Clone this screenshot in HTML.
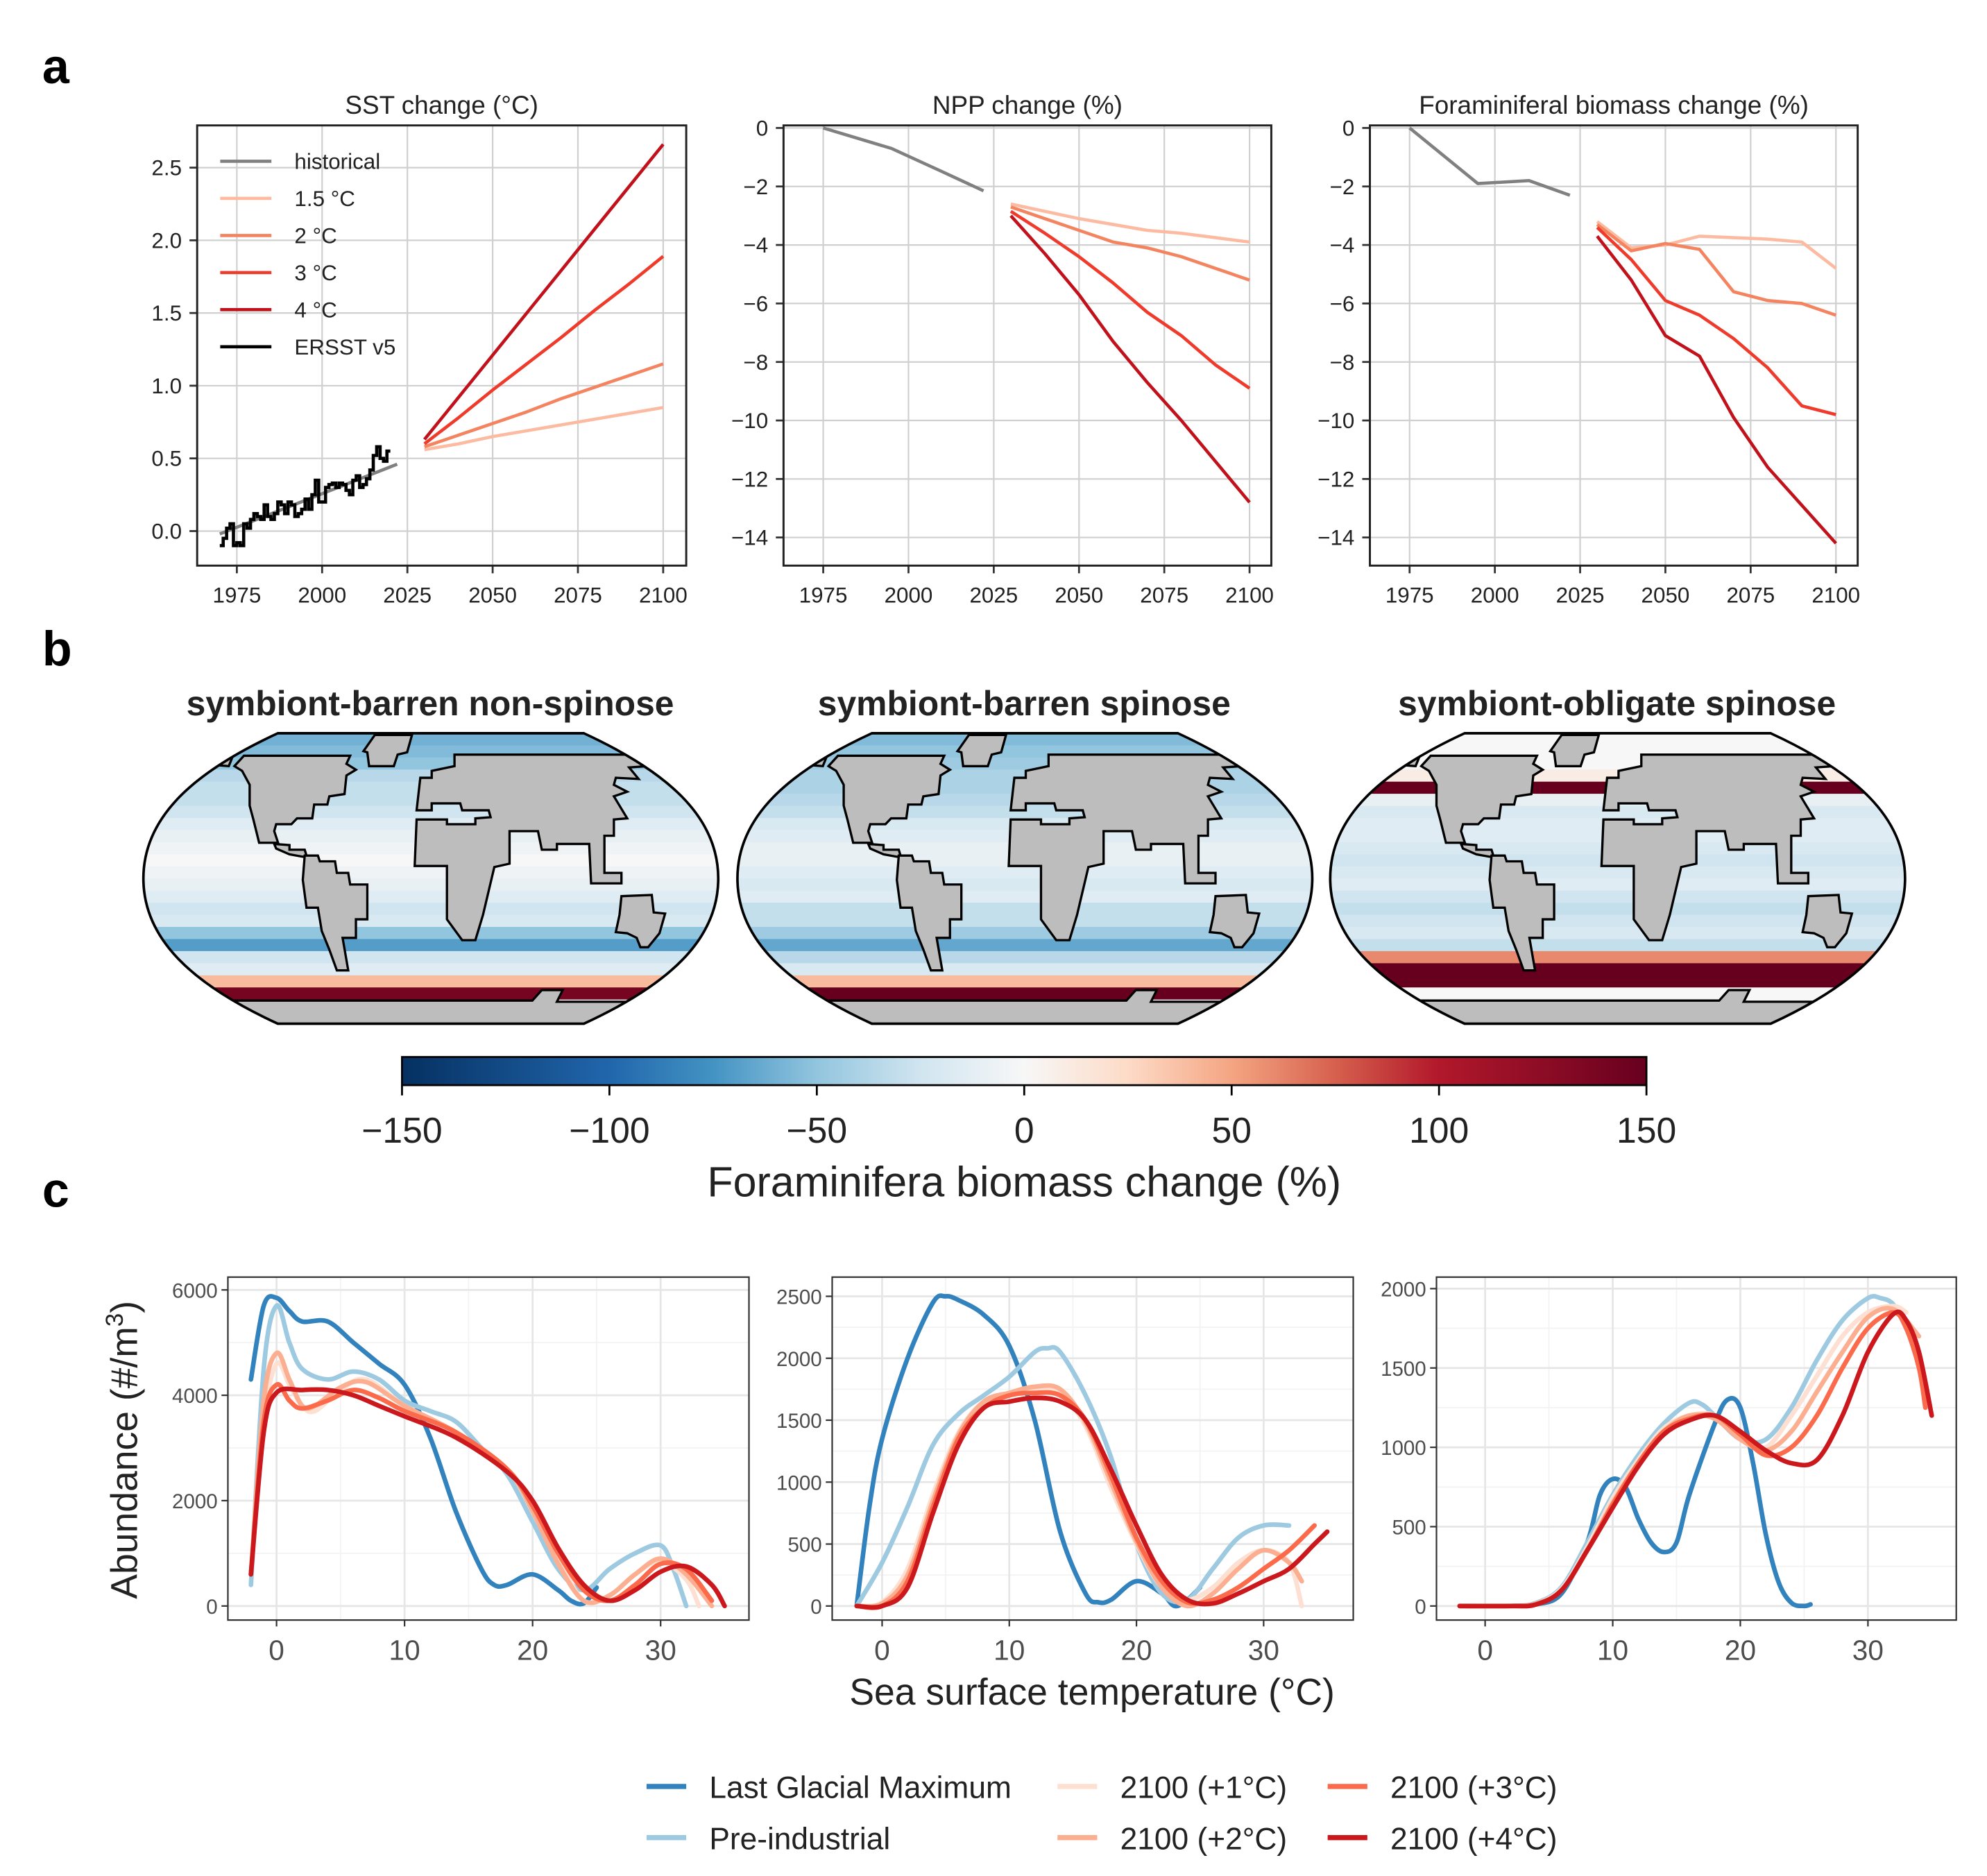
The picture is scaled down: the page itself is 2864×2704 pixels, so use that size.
<!DOCTYPE html>
<html><head><meta charset="utf-8"><style>
html,body{margin:0;padding:0;background:#fff}
svg{display:block;font-family:"Liberation Sans",Arial,sans-serif}
</style></head><body>
<svg id="fig" xmlns="http://www.w3.org/2000/svg" width="2864" height="2704" viewBox="0 0 1552 1466" preserveAspectRatio="none">
<rect width="1552" height="1466" fill="#fff"/>
<text x="33" y="65" font-size="38" font-weight="bold">a</text>
<text x="33" y="520" font-size="38" font-weight="bold">b</text>
<text x="33" y="943" font-size="38" font-weight="bold">c</text>
<g id="root"></g>
</svg>
<script>
// ---------- DATA ----------
const yearsHist=[1970,2022];
const sstHist=[-0.02,0.46];
const ersstYears=[];for(let y=1970;y<=2019;y++)ersstYears.push(y);
const ersstVals=[-0.1,-0.05,0.02,0.05,-0.1,-0.08,-0.1,0.05,0.02,0.08,0.12,0.1,0.08,0.18,0.1,0.08,0.12,0.2,0.18,0.12,0.2,0.18,0.1,0.12,0.15,0.22,0.15,0.25,0.35,0.2,0.2,0.3,0.32,0.33,0.3,0.33,0.32,0.28,0.25,0.35,0.38,0.3,0.32,0.36,0.42,0.52,0.58,0.5,0.48,0.55];
const scenYears=[2030,2040,2050,2060,2070,2080,2090,2100];
const sst15=[0.56,0.6,0.65,0.69,0.73,0.77,0.81,0.85];
const sst2=[0.58,0.66,0.74,0.82,0.91,0.99,1.07,1.15];
const sst3=[0.6,0.78,0.97,1.15,1.33,1.52,1.7,1.89];
const sst4=[0.63,0.92,1.21,1.5,1.79,2.08,2.37,2.66];
const nppHistYears=[1975,1995,2010,2022];
const nppHist=[0,-0.7,-1.5,-2.15];
const npp15=[-2.6,-2.85,-3.1,-3.3,-3.5,-3.6,-3.75,-3.9];
const npp2=[-2.7,-3.1,-3.5,-3.9,-4.1,-4.4,-4.8,-5.2];
const npp3=[-2.85,-3.6,-4.4,-5.3,-6.3,-7.1,-8.1,-8.9];
const npp4=[-3.0,-4.3,-5.7,-7.3,-8.7,-10.0,-11.4,-12.8];
const foraHistYears=[1975,1995,2010,2022];
const foraHist=[0,-1.9,-1.8,-2.3];
const fora15=[-3.2,-4.1,-4.0,-3.7,-3.75,-3.8,-3.9,-4.8];
const fora2=[-3.3,-4.2,-3.95,-4.15,-5.6,-5.9,-6.0,-6.4];
const fora3=[-3.4,-4.5,-5.9,-6.4,-7.2,-8.2,-9.5,-9.8];
const fora4=[-3.7,-5.2,-7.1,-7.8,-9.9,-11.6,-12.9,-14.2];
const yearTicks=[1975,2000,2025,2050,2075,2100];
const sstTicks=[0,0.5,1,1.5,2,2.5];
const pctTicks=[0,-2,-4,-6,-8,-10,-12,-14];
// map latitude-row values (top to bottom)
const map1Rows=[-60,-55,-50,-35,-30,-30,-25,-15,-10,-5,0,-5,-10,-15,-25,-20,-50,-70,-25,-15,40,140,0,0];
const map2Rows=[-55,-50,-45,-40,-40,-35,-30,-20,-15,-10,-10,-15,-20,-15,-30,-30,-45,-65,-35,-20,40,150,0,0];
const map3Rows=[0,0,0,10,150,-10,-20,-15,-15,-20,-25,-20,-15,-25,-30,-25,-20,-30,60,150,150,0,0,0];
const cbarTicks=[-150,-100,-50,0,50,100,150];
// panel c
const cX1={lgm:[-2,-1,0,1,2,4,6,8,10,12,14,16,17,18,20,22,23,24,25],pi:[-2,-1,0,1,2,4,6,8,10,12,14,16,18,20,22,24,26,28,30,31,32],p1:[-2,-1,0,1,2,3,5,7,10,14,18,20,22,24,26,28,30,32,33],p2:[-2,-1,0,1,2,3,5,7,10,14,18,20,22,24,26,28,30,32,34],p3:[-2,-1,0,1,2,4,6,8,10,14,18,20,22,24,26,28,30,32,34],p4:[-2,-1,0,2,4,6,8,10,14,18,20,22,24,26,28,30,32,34,35]};
const cY1={lgm:[4300,5700,5850,5600,5400,5400,5000,4600,4200,3200,1800,700,400,400,600,300,100,50,350],pi:[400,4500,5700,5000,4500,4300,4450,4300,3900,3700,3500,3000,2500,1600,700,300,700,1000,1150,700,0],p1:[600,3500,4600,4200,3800,3700,4100,4300,3800,3300,2600,1900,900,100,200,600,850,500,0],p2:[600,3900,4800,4300,3800,3800,4150,4250,3800,3300,2600,1800,800,100,200,600,900,600,0],p3:[600,3500,4200,3900,3750,3900,4100,3950,3700,3300,2600,1900,1000,300,100,400,800,700,100],p4:[600,3300,4050,4100,4100,4000,3800,3600,3200,2550,2000,1100,400,100,300,650,750,400,0]};
const cX2={lgm:[-2,-1,0,2,4,5,6,8,10,12,14,16,17,18,20,22,23,24,25],pi:[-2,0,2,4,6,8,10,12,13,14,16,18,20,22,24,26,28,30,32],p1:[-2,0,2,4,6,8,10,12,14,16,18,20,22,24,26,28,30,32,33],p2:[-2,0,2,4,6,8,10,12,14,16,18,20,22,24,26,28,30,32,33],p3:[-2,0,2,4,6,8,10,12,14,16,18,20,22,24,26,28,30,32,34],p4:[-2,0,2,4,6,8,10,12,14,16,18,20,22,24,26,28,30,32,34,35]};
const cY2={lgm:[0,800,1350,2000,2450,2500,2470,2350,2100,1500,600,100,30,50,200,100,0,50,150],pi:[0,350,800,1300,1550,1700,1850,2050,2080,2050,1700,1200,500,100,50,300,550,650,650],p1:[0,30,300,900,1400,1650,1700,1750,1720,1450,950,500,150,50,150,350,450,350,0],p2:[0,20,250,850,1380,1650,1720,1770,1750,1480,1000,520,150,0,100,300,450,350,200],p3:[0,0,200,800,1350,1600,1700,1720,1700,1500,1050,550,200,30,50,150,300,450,650],p4:[0,0,150,750,1300,1600,1650,1680,1650,1500,1100,650,250,50,20,100,200,300,500,600]};
const cX3={lgm:[-2,2,4,6,8,9,10,11,12,13,14,15,16,18,19,20,21,22,23,24,25,25.5],pi:[-2,2,4,6,8,10,12,14,16,17,18,20,22,24,26,28,30,31,32,33],p1:[-2,2,4,6,8,10,12,14,16,18,20,22,24,26,28,30,32,33],p2:[-2,2,4,6,8,10,12,14,16,18,20,22,24,26,28,30,32,34],p3:[-2,2,4,6,8,10,12,14,16,18,20,22,24,26,28,30,32,33,34,34.5],p4:[-2,2,4,6,8,10,12,14,16,18,20,22,24,26,28,30,32,33,34,35]};
const cY3={lgm:[0,0,10,80,400,700,800,750,550,400,340,400,700,1150,1300,1250,900,450,150,20,0,10],pi:[0,0,20,120,400,700,950,1150,1280,1270,1200,1050,1050,1250,1550,1800,1940,1940,1900,1750],p1:[0,0,15,110,370,680,920,1120,1200,1200,1050,1000,1200,1450,1700,1850,1890,1850],p2:[0,0,15,100,350,650,900,1100,1200,1180,1050,980,1100,1350,1600,1820,1870,1700],p3:[0,0,10,100,350,640,900,1100,1180,1200,1080,950,1000,1200,1500,1750,1850,1750,1500,1250],p4:[0,0,10,100,350,620,880,1080,1170,1200,1100,980,900,920,1200,1600,1840,1800,1600,1200]};
const seriesKeys=['lgm','pi','p1','p2','p3','p4'];
const seriesLabels=['Last Glacial Maximum','Pre-industrial','2100 (+1°C)','2100 (+2°C)','2100 (+3°C)','2100 (+4°C)'];

// ---------- HELPERS ----------
const NS='http://www.w3.org/2000/svg';
const root=document.getElementById('root');
function el(tag,attrs,parent){const e=document.createElementNS(NS,tag);for(const k in attrs)e.setAttribute(k,attrs[k]);(parent||root).appendChild(e);return e;}
function txt(x,y,s,size,anchor,extra,parent){const t=el('text',Object.assign({x:x,y:y,'font-size':size,'text-anchor':anchor||'start',fill:'#222'},extra||{}),parent);t.textContent=s;return t;}
function lin(d0,d1,r0,r1){return v=>r0+(v-d0)/(d1-d0)*(r1-r0);}
function poly(xs,ys,sx,sy){return xs.map((x,i)=>sx(x).toFixed(2)+','+sy(ys[i]).toFixed(2)).join(' ');}
function smooth(xs,ys,sx,sy){const p=xs.map((x,i)=>[sx(x),sy(ys[i])]);let d='M'+p[0][0]+','+p[0][1];for(let i=0;i<p.length-1;i++){const p0=p[i-1]||p[i],p1=p[i],p2=p[i+1],p3=p[i+2]||p2;const c1=[p1[0]+(p2[0]-p0[0])/6,p1[1]+(p2[1]-p0[1])/6],c2=[p2[0]-(p3[0]-p1[0])/6,p2[1]-(p3[1]-p1[1])/6];d+=' C'+c1[0].toFixed(2)+','+c1[1].toFixed(2)+' '+c2[0].toFixed(2)+','+c2[1].toFixed(2)+' '+p2[0].toFixed(2)+','+p2[1].toFixed(2);}return d;}

// ---------- PANEL A ----------
const scenColors=['#fcbba1','#f4845f','#ef3b2c','#c1121c'];
function panelA(name,x0,x1,y0,y1,title,yd0,yd1,ypx0,ypx1,yticks,fmt){
  const g=el('g',{});
  
  
  const sx=lin(1975,2100,x0+31,x0+364),sy=lin(yd0,yd1,ypx0,ypx1);
  yearTicks.forEach(t=>{el('line',{x1:sx(t),x2:sx(t),y1:y0,y2:y1,stroke:'#d0d0d0','stroke-width':1.2},g);el('line',{x1:sx(t),x2:sx(t),y1:y1,y2:y1+6,stroke:'#333','stroke-width':1.5},g);txt(sx(t),y1+29,String(t),17,'middle',{},g);});
  yticks.forEach(t=>{el('line',{x1:x0,x2:x1,y1:sy(t),y2:sy(t),stroke:'#d0d0d0','stroke-width':1.2},g);el('line',{x1:x0-6,x2:x0,y1:sy(t),y2:sy(t),stroke:'#333','stroke-width':1.5},g);txt(x0-12,sy(t)+6,fmt(t),17,'end',{},g);});
  el('rect',{x:x0,y:y0,width:x1-x0,height:y1-y0,fill:'none',stroke:'#222','stroke-width':1.6},g);
  txt((x0+x1)/2,y0-9,title,20,'middle',{},g);
  return {g,sx,sy};
}
function addLine(g,xs,ys,sx,sy,color,w,name){const p=el('polyline',{points:poly(xs,ys,sx,sy),fill:'none',stroke:color,'stroke-width':w,'stroke-linejoin':'round'},g);}
let A=panelA('sst-chart',154,536,98,442,'SST change (°C)',0,2.5,415,131,sstTicks,t=>t.toFixed(1));
addLine(A.g,yearsHist,sstHist,A.sx,A.sy,'#808080',2.5,'sst-historical-line');
[sst15,sst2,sst3,sst4].forEach((s,i)=>addLine(A.g,scenYears,s,A.sx,A.sy,scenColors[i],2.5,'sst-scenario-line-'+(i+1)));
(function(){const p=el('path',{d:ersstYears.map((y,i)=>(i?'L':'M')+A.sx(y)+','+A.sy(ersstVals[i])+' L'+A.sx(y+1)+','+A.sy(ersstVals[i])).join(' '),fill:'none',stroke:'#000','stroke-width':2.5},A.g);})();
const legA=[['historical','#808080'],['1.5 °C',scenColors[0]],['2 °C',scenColors[1]],['3 °C',scenColors[2]],['4 °C',scenColors[3]],['ERSST v5','#000']];
legA.forEach((l,i)=>{const y=126+i*29;const g=el('g',{},A.g);el('line',{x1:172,x2:212,y1:y,y2:y,stroke:l[1],'stroke-width':2.5},g);txt(230,y+6,l[0],17,'start',{},g);});
let B=panelA('npp-chart',612,993,98,442,'NPP change (%)',0,-14,100,420,pctTicks,t=>t<0?'−'+(-t):String(t));
addLine(B.g,nppHistYears,nppHist,B.sx,B.sy,'#808080',2.5,'npp-historical-line');
[npp15,npp2,npp3,npp4].forEach((s,i)=>addLine(B.g,scenYears,s,B.sx,B.sy,scenColors[i],2.5,'npp-scenario-line-'+(i+1)));
let C=panelA('foram-chart',1070,1451,98,442,'Foraminiferal biomass change (%)',0,-14,100,420,pctTicks,t=>t<0?'−'+(-t):String(t));
addLine(C.g,foraHistYears,foraHist,C.sx,C.sy,'#808080',2.5,'foram-historical-line');
[fora15,fora2,fora3,fora4].forEach((s,i)=>addLine(C.g,scenYears,s,C.sx,C.sy,scenColors[i],2.5,'foram-scenario-line-'+(i+1)));

// ---------- PANEL B ----------
const stops=[[-150,[5,48,97]],[-100,[33,102,172]],[-75,[67,147,195]],[-50,[146,197,222]],[-25,[209,229,240]],[0,[247,247,247]],[25,[253,219,199]],[50,[244,165,130]],[75,[214,96,77]],[100,[178,24,43]],[150,[103,0,31]]];
function cmap(v){v=Math.max(-150,Math.min(150,v));for(let i=0;i<stops.length-1;i++){const a=stops[i],b=stops[i+1];if(v<=b[0]){const t=(v-a[0])/(b[0]-a[0]);const c=a[1].map((c0,k)=>Math.round(c0+(b[1][k]-c0)*t));return 'rgb('+c.join(',')+')';}}return 'rgb(103,0,31)';}
const defs=el('defs',{});
const lg=el('linearGradient',{id:'cbg',x1:0,x2:1,y1:0,y2:0},defs);
stops.forEach(s=>el('stop',{offset:((s[0]+150)/300),'stop-color':cmap(s[0])},lg));
function shapePath(ox){const L=ox,R=ox+449,T=573,Bt=800;return `M${L+105},${T} L${R-105},${T} C${R-40},${T+30} ${R},${T+65} ${R},${(T+Bt)/2} C${R},${Bt-65} ${R-40},${Bt-30} ${R-105},${Bt} L${L+105},${Bt} C${L+40},${Bt-30} ${L},${Bt-65} ${L},${(T+Bt)/2} C${L},${T+65} ${L+40},${T+30} ${L+105},${T} Z`;}
const continents=[
 [[620,25],[718,25],[705,100],[680,110],[670,160],[605,160],[600,100],[590,95]],
 [[195,155],[245,120],[235,160]],
 [[275,115],[555,115],[545,150],[570,175],[545,200],[540,280],[500,290],[495,325],[460,325],[455,385],[415,385],[400,410],[360,410],[355,440],[365,490],[315,490],[300,390],[290,330],[290,240],[270,180],[250,160]],
 [[355,495],[395,500],[395,520],[435,520],[440,545],[470,545],[430,550],[395,540],[360,515]],
 [[435,545],[470,545],[475,570],[515,570],[520,620],[550,620],[555,670],[600,670],[600,820],[570,820],[570,900],[535,900],[550,1040],[520,1040],[500,950],[480,870],[470,770],[440,770],[430,650]],
 [[830,110],[1290,110],[1340,160],[1290,165],[1315,215],[1255,210],[1250,240],[1285,270],[1250,290],[1285,385],[1250,390],[1250,460],[1225,460],[1225,620],[1270,620],[1270,665],[1190,665],[1185,495],[1100,495],[1100,520],[1060,520],[1050,440],[975,440],[975,580],[935,595],[905,800],[885,910],[850,910],[810,820],[810,590],[725,590],[730,390],[810,390],[810,410],[885,410],[885,385],[925,380],[920,350],[850,350],[845,320],[770,320],[770,350],[730,350],[740,210],[770,210],[770,180],[830,160]],
 [[1270,720],[1350,715],[1355,790],[1385,795],[1370,880],[1340,940],[1320,940],[1310,900],[1285,880],[1255,875],[1265,800]],
 [[240,1170],[1035,1170],[1060,1125],[1115,1125],[1100,1175],[1290,1175],[1420,1175],[1400,1270],[100,1270]]
];
function cvx(z){return (z-10)*449/1515;}function cvy(z){return (z-18)*227/1252;}
function drawMap(ox,rows,name,title){
  const g=el('g',{});
  
  
  const cp=el('clipPath',{id:'clip'+name},defs);el('path',{d:shapePath(ox)},cp);
  const inner=el('g',{'clip-path':'url(#clip'+name+')'},g);
  el('rect',{x:ox,y:573,width:449,height:227,fill:'#f5f5f5'},inner);
  const h=227/rows.length;
  rows.forEach((v,i)=>{const r=el('rect',{x:ox,y:(573+i*h).toFixed(2),width:449,height:(h+0.5).toFixed(2),fill:cmap(v)},inner);});
  continents.forEach(c=>{const p=el('polygon',{points:c.map(q=>(ox+cvx(q[0])).toFixed(1)+','+(573+cvy(q[1])).toFixed(1)).join(' '),fill:'#bdbdbd',stroke:'#000','stroke-width':1.8},inner);});
  el('path',{d:shapePath(ox),fill:'none',stroke:'#000','stroke-width':2},g);
  const t=txt(ox+224,559,title,27,'middle',{'font-weight':'bold'},g);
  
}
drawMap(112,map1Rows,'map-nonspinose-barren','symbiont-barren non-spinose');
drawMap(576,map2Rows,'map-spinose-barren','symbiont-barren spinose');
drawMap(1039,map3Rows,'map-spinose-obligate','symbiont-obligate spinose');
(function(){const g=el('g',{});
 const sx=lin(-150,150,314,1286);
 el('rect',{x:314,y:826,width:972,height:22,fill:'url(#cbg)',stroke:'#000','stroke-width':1.5},g);
 cbarTicks.forEach(t=>{el('line',{x1:sx(t),x2:sx(t),y1:848,y2:856,stroke:'#000','stroke-width':1.5},g);txt(sx(t),893,t<0?'−'+(-t):String(t),28,'middle',{},g);});
 const tt=txt(800,935,'Foraminifera biomass change (%)',33,'middle',{},g);})();

// ---------- PANEL C ----------
const cColors={lgm:'#3182bd',pi:'#9ecae1',p1:'#fee0d2',p2:'#fcae91',p3:'#fb6a4a',p4:'#cb181d'};
function panelC(name,x0,x1,zeroX,thirtyX,y0,y1,yTop,yTopVal,yticks,minor,X,Y){
  const g=el('g',{});
  const sx=lin(0,30,zeroX,thirtyX),sy=lin(0,yTopVal,1255,yTop);
  [5,15,25].forEach(t=>el('line',{x1:sx(t),x2:sx(t),y1:y0,y2:y1,stroke:'#f3f3f3','stroke-width':1},g));
  minor.forEach(t=>el('line',{x1:x0,x2:x1,y1:sy(t),y2:sy(t),stroke:'#f3f3f3','stroke-width':1},g));
  [0,10,20,30].forEach(t=>{el('line',{x1:sx(t),x2:sx(t),y1:y0,y2:y1,stroke:'#e6e6e6','stroke-width':1.5},g);el('line',{x1:sx(t),x2:sx(t),y1:y1,y2:y1+5,stroke:'#333','stroke-width':1.2},g);txt(sx(t),y1+31,String(t),22,'middle',{fill:'#4d4d4d'},g);});
  yticks.forEach(t=>{el('line',{x1:x0,x2:x1,y1:sy(t),y2:sy(t),stroke:'#e6e6e6','stroke-width':1.5},g);el('line',{x1:x0-5,x2:x0,y1:sy(t),y2:sy(t),stroke:'#333','stroke-width':1.2},g);txt(x0-8,sy(t)+6,String(t),16,'end',{fill:'#4d4d4d'},g);});
  seriesKeys.forEach(k=>{const p=el('path',{d:smooth(X[k],Y[k],sx,sy),fill:'none',stroke:cColors[k],'stroke-width':3.6,'stroke-linecap':'round'},g);});
  el('rect',{x:x0,y:y0,width:x1-x0,height:y1-y0,fill:'none',stroke:'#333','stroke-width':1.2},g);
}
panelC('abundance-chart-1',178,585,216,516,998,1266,1008,6000,[0,2000,4000,6000],[1000,3000,5000],cX1,cY1);
panelC('abundance-chart-2',650,1057,689,987,998,1266,1013,2500,[0,500,1000,1500,2000,2500],[250,750,1250,1750,2250],cX2,cY2);
panelC('abundance-chart-3',1122,1528,1160,1459,998,1266,1007,2000,[0,500,1000,1500,2000],[250,750,1250,1750],cX3,cY3);
(function(){const t=txt(0,0,'Abundance (#/m',29,'middle',{transform:'translate(107,1133) rotate(-90)'});const s=el('tspan',{dy:-11,'font-size':19},t);s.textContent='3';const s2=el('tspan',{dy:11},t);s2.textContent=')';
 const x=txt(853,1332,'Sea surface temperature (°C)',29,'middle');})();
(function(){const pos=[[505,1396],[505,1436],[826,1396],[826,1436],[1037,1396],[1037,1436]];
 seriesKeys.forEach((k,i)=>{const g=el('g',{});el('line',{x1:pos[i][0],x2:pos[i][0]+31,y1:pos[i][1],y2:pos[i][1],stroke:cColors[k],'stroke-width':4},g);txt(pos[i][0]+49,pos[i][1]+9,seriesLabels[i],24,'start',{},g);});})();
</script>
</body></html>
